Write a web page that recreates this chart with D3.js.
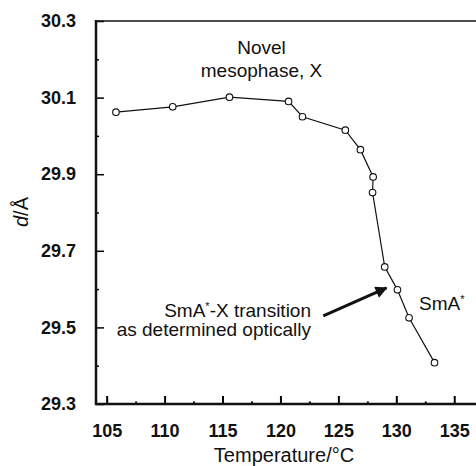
<html>
<head>
<script src="https://d3js.org/d3.v7.min.js"></script>
<style>
body { margin: 0; background: #fff; }
text { font-family: "Liberation Sans", Arial, sans-serif; fill: #111; }
</style>
</head>
<body>
<script>
// temperature (°C) and layer spacing d (Å)
let temps = [105.8, 110.7, 115.6, 120.7, 121.9, 125.6, 126.9, 128.0, 127.95, 129.0, 130.1, 131.1, 133.3];
let spacing = [30.062, 30.076, 30.101, 30.090, 30.050, 30.015, 29.964, 29.893, 29.852, 29.658, 29.598, 29.525, 29.408];
let xTicks = [105, 110, 115, 120, 125, 130, 135];
let yTicks = [29.3, 29.5, 29.7, 29.9, 30.1, 30.3];

let width = 476, height = 466;
let svg = d3.select("body").append("svg").attr("width", width).attr("height", height);

let x = d3.scaleLinear().domain([104.08, 137.5]).range([96, 483.2]);
let y = d3.scaleLinear().domain([29.3, 30.3]).range([404, 21]);

// minor ticks
svg.append("g").attr("transform", "translate(0,404)")
    .call(d3.axisBottom(x).tickValues(d3.range(107.5, 136, 5)).tickSize(-2.5).tickFormat(""))
    .call(g => g.select(".domain").remove())
    .selectAll("line").attr("stroke-width", 2);
svg.append("g").attr("transform", "translate(96,0)")
    .call(d3.axisLeft(y).tickValues(d3.range(29.4, 30.3, 0.2)).tickSize(-3).tickFormat(""))
    .call(g => g.select(".domain").remove())
    .selectAll("line").attr("stroke-width", 1.5);

// major ticks
let xa = svg.append("g").attr("transform", "translate(0,404)")
    .call(d3.axisBottom(x).tickValues(xTicks).tickSize(-8).tickPadding(20).tickFormat(d3.format("d")))
    .call(g => g.select(".domain").remove());
xa.selectAll("line").attr("stroke-width", 2);
xa.selectAll("text").attr("font-size", "18px").attr("font-weight", "bold").attr("fill", "#111");

let ya = svg.append("g").attr("transform", "translate(96,0)")
    .call(d3.axisLeft(y).tickValues(yTicks).tickSize(-8).tickPadding(20).tickFormat(d3.format(".1f")))
    .call(g => g.select(".domain").remove());
ya.selectAll("line").attr("stroke-width", 1.5);
ya.selectAll("text").attr("font-size", "18px").attr("font-weight", "bold").attr("fill", "#111");

// frame
svg.append("line").attr("x1", 96).attr("x2", width).attr("y1", 21).attr("y2", 21)
    .attr("stroke", "#111").attr("stroke-width", 1.5);
svg.append("line").attr("x1", 96).attr("x2", 96).attr("y1", 20).attr("y2", 405)
    .attr("stroke", "#111").attr("stroke-width", 2.5);
svg.append("line").attr("x1", 95).attr("x2", width).attr("y1", 404).attr("y2", 404)
    .attr("stroke", "#111").attr("stroke-width", 2.5);

// data
let pts = temps.map((t, i) => [t, spacing[i]]);
svg.append("path").datum(pts)
    .attr("fill", "none").attr("stroke", "#111").attr("stroke-width", 1.2)
    .attr("d", d3.line().x(d => x(d[0])).y(d => y(d[1])));
svg.selectAll("circle.pt").data(pts).enter().append("circle")
    .attr("class", "pt")
    .attr("cx", d => x(d[0])).attr("cy", d => y(d[1])).attr("r", 3.3)
    .attr("fill", "#fff").attr("stroke", "#111").attr("stroke-width", 1.1);

// axis titles
svg.append("text").attr("x", 284).attr("y", 462).attr("text-anchor", "middle")
    .attr("font-size", "20px").text("Temperature/°C");
let yt = svg.append("text").attr("transform", "translate(28,212) rotate(-90)")
    .attr("text-anchor", "middle").attr("font-size", "20px");
yt.append("tspan").attr("font-style", "italic").text("d");
yt.append("tspan").text("/Å");

// annotations
svg.append("text").attr("x", 261.5).attr("y", 54).attr("text-anchor", "middle")
    .attr("font-size", "19px").text("Novel");
svg.append("text").attr("x", 261.5).attr("y", 77).attr("text-anchor", "middle")
    .attr("font-size", "19px").text("mesophase,  X");

let t1 = svg.append("text").attr("x", 311).attr("y", 317).attr("text-anchor", "end").attr("font-size", "19px");
t1.append("tspan").text("SmA");
t1.append("tspan").attr("font-size", "11px").attr("dy", -7).text("*");
t1.append("tspan").attr("dy", 7).text("-X transition");
svg.append("text").attr("x", 311).attr("y", 336).attr("text-anchor", "end")
    .attr("font-size", "19px").text("as determined optically");

let t2 = svg.append("text").attr("x", 419).attr("y", 310).attr("font-size", "19px");
t2.append("tspan").text("SmA");
t2.append("tspan").attr("font-size", "11px").attr("dy", -7).text("*");

// arrow
svg.append("defs").append("marker").attr("id", "ah")
    .attr("viewBox", "0 0 10 10").attr("refX", 9).attr("refY", 5)
    .attr("markerWidth", 5).attr("markerHeight", 4).attr("orient", "auto")
    .attr("markerUnits", "strokeWidth")
    .append("path").attr("d", "M0,0 L10,5 L0,10 Z").attr("fill", "#111");
svg.append("line")
    .attr("x1", x(123.7)).attr("y1", y(29.530))
    .attr("x2", x(129.15)).attr("y2", y(29.603))
    .attr("stroke", "#111").attr("stroke-width", 3).attr("marker-end", "url(#ah)");
</script>
</body>
</html>
